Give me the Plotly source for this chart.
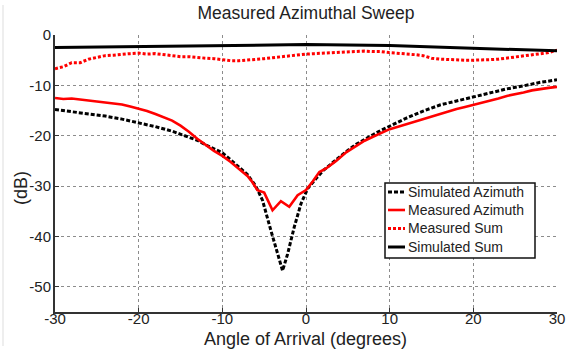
import plotly.graph_objects as go

# ---- data -------------------------------------------------------------
sim_az_angle = [-30, -28, -26, -24, -22, -20, -18, -16, -14, -13, -12, -11, -10, -9, -8,
                -7, -6, -5.2, -4.2, -3.4, -2.8, -2.2, -1.4, -0.6, 0.2, 1.2, 2, 3, 4, 5,
                6, 7, 8, 9, 10, 12, 14, 16, 18, 20, 22, 24, 26, 28, 30]
sim_az_db = [-14.8, -15.2, -15.6, -16.1, -16.7, -17.4, -18.2, -19.1, -20.2, -20.9, -21.8,
             -22.6, -23.4, -24.8, -26.2, -27.7, -30.0, -32.8, -38.8, -43.5, -46.8, -43.5,
             -38.1, -33.5, -30.5, -28.5, -27.0, -25.6, -24.2, -22.9, -21.7, -20.7, -19.8,
             -18.9, -18.1, -16.5, -15.1, -13.9, -13.1, -12.3, -11.4, -10.7, -10.1, -9.4, -8.9]

meas_az_angle = [-30, -29, -28, -27, -26, -25, -24, -23, -22, -21, -20, -19, -18, -17, -16,
                 -15, -14, -13, -12, -11, -10, -9, -8, -7, -6.5, -5.8, -5, -4, -3, -2, -1,
                 0, 0.8, 1.6, 2.4, 3.6, 4.8, 6, 7, 8, 9, 10, 11, 12, 13, 14, 15, 16, 17,
                 18, 19, 20, 21, 22, 23, 24, 25, 26, 27, 28, 29, 30]
meas_az_db = [-12.5, -12.7, -12.6, -12.8, -13.0, -13.2, -13.3, -13.5, -13.8, -14.2, -14.6,
              -15.1, -15.7, -16.3, -17.0, -18.0, -19.2, -20.6, -21.8, -23.0, -24.0, -25.2,
              -26.6, -28.0, -29.0, -30.8, -31.3, -34.8, -33.0, -34.1, -31.8, -30.8, -29.1,
              -27.2, -26.5, -25.0, -23.3, -22.0, -21.0, -20.2, -19.4, -18.7, -18.2, -17.7,
              -17.2, -16.6, -16.1, -15.6, -15.2, -14.7, -14.3, -13.9, -13.5, -13.1, -12.6,
              -12.1, -11.8, -11.4, -11.0, -10.7, -10.5, -10.3]

meas_sum_angle = list(range(-30, 31))
meas_sum_db = [-6.7, -6.3, -5.5, -5.5, -4.8, -4.5, -4.1, -4.0, -3.8, -3.7, -3.6, -3.8, -3.7,
               -3.9, -4.1, -4.3, -4.3, -4.5, -4.6, -4.7, -4.9, -5.1, -5.1, -5.0, -4.8, -4.7,
               -4.5, -4.3, -4.1, -3.9, -3.8, -3.7, -3.6, -3.5, -3.5, -3.3, -3.2, -3.2, -3.3,
               -3.3, -3.5, -3.6, -3.7, -3.9, -4.1, -4.6, -4.8, -4.9, -4.9, -5.0, -5.0, -5.0,
               -4.9, -4.8, -4.6, -4.3, -4.1, -3.9, -3.7, -3.5, -3.0]

sim_sum_angle = [-30, -20, -10, 0, 10, 20, 30]
sim_sum_db = [-2.5, -2.3, -2.1, -1.9, -2.1, -2.6, -3.15]

x_ticks = [-30, -20, -10, 0, 10, 20, 30]
x_tick_text = ["-30", "-20", "-10", "0", "10", "20", "30"]
y_ticks = [-50, -40, -30, -20, -10, 0]
y_tick_text = ["-50", "-40", "-30", "-20", "-10", "0"]

series_names = ["Simulated Azimuth", "Measured Azimuth", "Measured Sum", "Simulated Sum"]
series_colors = ["#000000", "#ff0000", "#ff0000", "#000000"]
series_dash = ["4px,2px", "solid", "3px,2px", "solid"]
series_width = [3, 2.6, 3, 3]

FONT = "Arial, 'Liberation Sans', Helvetica, sans-serif"
TXT = "#222222"

# ---- figure geometry (pixels) -----------------------------------------
W, H = 569, 350
L, R, T, B = 55, 12, 35, 38
PW, PH = W - L - R, H - T - B


def px_x(px):
    return (px - L) / PW


def px_y(py):
    return (H - B - py) / PH


fig = go.Figure()
data = [(sim_az_angle, sim_az_db), (meas_az_angle, meas_az_db),
        (meas_sum_angle, meas_sum_db), (sim_sum_angle, sim_sum_db)]
for (xs, ys), name, col, dash, wd in zip(data, series_names, series_colors,
                                         series_dash, series_width):
    fig.add_trace(go.Scatter(x=xs, y=ys, mode="lines", name=name, showlegend=False,
                             line=dict(color=col, dash=dash, width=wd)))

# ---- legend box drawn as shapes + text --------------------------------
shapes = [
    dict(type="rect", xref="paper", yref="paper",
         x0=px_x(385), x1=px_x(535), y0=px_y(258), y1=px_y(183),
         line=dict(color="#111111", width=1.5), fillcolor="white", layer="above"),
    # faint frame edge on the far left of the figure
    dict(type="line", xref="paper", yref="paper",
         x0=px_x(3), x1=px_x(3), y0=px_y(346), y1=px_y(5),
         line=dict(color="#dddddd", width=1)),
]
annotations = []
row_y = [192, 210, 228.5, 247]
for ry, name, col, dash, wd in zip(row_y, series_names, series_colors,
                                   series_dash, series_width):
    shapes.append(dict(type="line", xref="paper", yref="paper",
                       x0=px_x(388), x1=px_x(405), y0=px_y(ry), y1=px_y(ry),
                       line=dict(color=col, dash=dash, width=wd), layer="above"))
    annotations.append(dict(xref="paper", yref="paper", x=px_x(406), y=px_y(ry),
                            text=name, showarrow=False, xanchor="left", yanchor="middle",
                            font=dict(family=FONT, size=14, color=TXT)))

# axis titles placed as text at fixed pixel positions
annotations.append(dict(xref="paper", yref="paper", x=px_x(305), y=px_y(339),
                        text="Angle of Arrival (degrees)", showarrow=False,
                        xanchor="center", yanchor="middle", borderpad=0,
                        font=dict(family=FONT, size=18, color=TXT)))
annotations.append(dict(xref="paper", yref="paper", x=px_x(21), y=px_y(188),
                        text="(dB)", showarrow=False, textangle=-90,
                        xanchor="center", yanchor="middle",
                        font=dict(family=FONT, size=18, color=TXT)))

axis_common = dict(showgrid=True, gridcolor="#8c8c8c", griddash="dot", gridwidth=1,
                   zeroline=False, showline=True, linecolor="#333333", linewidth=2,
                   ticks="inside", ticklen=4, tickcolor="#333333", mirror=False,
                   automargin=False,
                   tickfont=dict(family=FONT, size=15, color=TXT))

fig.update_layout(
    width=W, height=H,
    margin=dict(l=L, r=R, t=T, b=B),
    paper_bgcolor="white", plot_bgcolor="white",
    title=dict(text="Measured Azimuthal Sweep", x=px_x(306), xref="paper",
               xanchor="center", y=1 - 13 / H, yanchor="middle",
               font=dict(family=FONT, size=17.5, color=TXT)),
    xaxis=dict(range=[-30, 30], tickvals=x_ticks, ticktext=x_tick_text,
               ticklabelstandoff=-8, **axis_common),
    yaxis=dict(range=[-55, 0], tickvals=y_ticks, ticktext=y_tick_text,
               ticklabelstandoff=-1, **axis_common),
    shapes=shapes,
    annotations=annotations,
    showlegend=False,
)

fig.write_html("out.html")
